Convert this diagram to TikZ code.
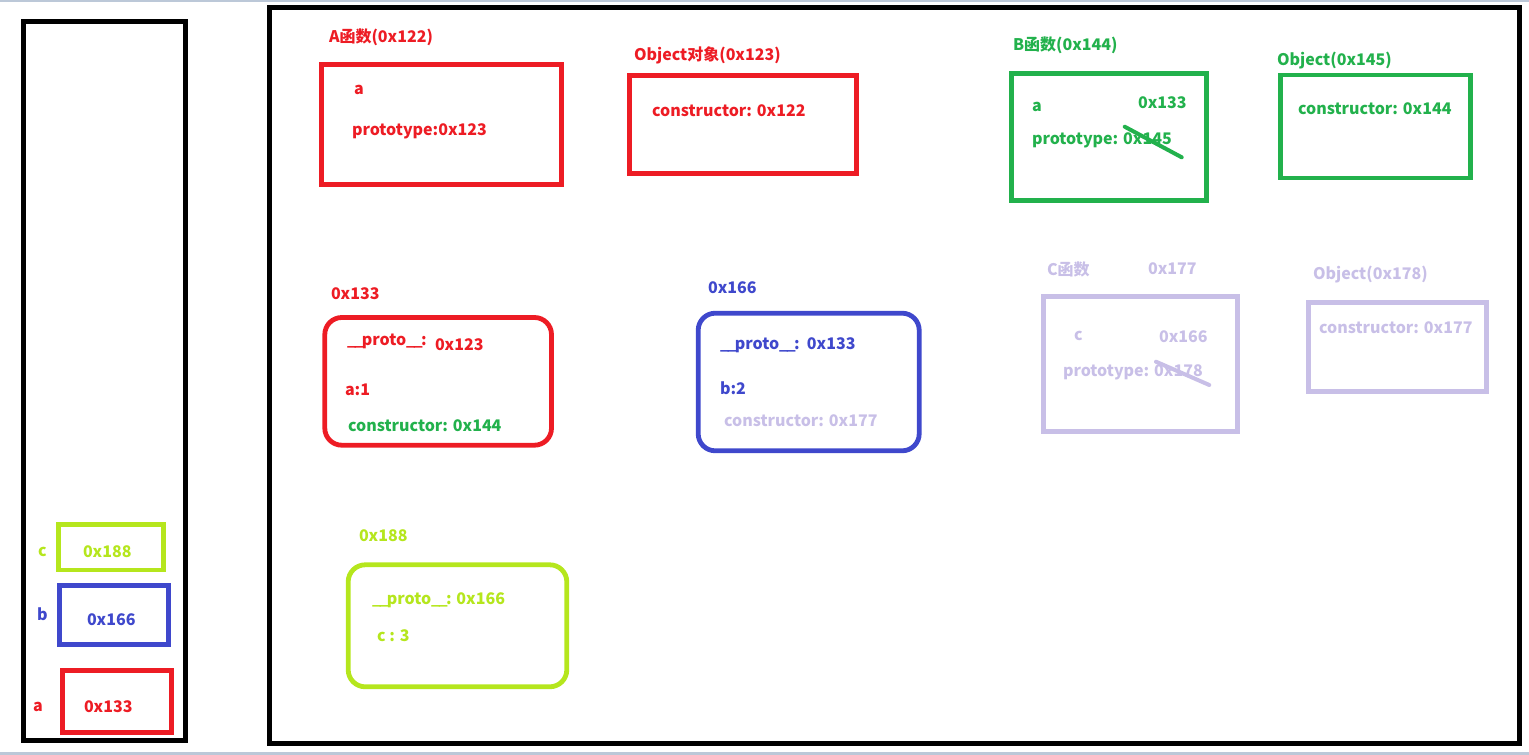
\documentclass[tikz,border=0pt]{standalone}
\usepackage{fontspec}
\setmainfont{Noto Sans CJK SC}
\usepackage{tikz}
\definecolor{pred}{HTML}{ED1C24}
\definecolor{pgreen}{HTML}{22B14C}
\definecolor{pblue}{HTML}{3F48CC}
\definecolor{plime}{HTML}{B5E61D}
\definecolor{plav}{HTML}{C8BFE7}
\definecolor{pbar}{HTML}{BCC8D8}
\newcommand\ul{\_\kern-1.75pt}
\tikzset{
    every node/.style={inner sep=0pt, outer sep=0pt,
    	font=\bfseries\fontsize{16}{16}\selectfont}
}
\tikzset{
    cell/.style={draw, rectangle, line width=4.8pt, anchor=north west},
    blob/.style={cell, rounded corners=17pt},
    txt/.style={anchor=base west},
    strike/.style={line width=4pt, line cap=round}
}

\begin{document}
\begin{tikzpicture}[x=1pt,y=-1pt]
	\useasboundingbox (0,0) rectangle (1529,755);
	\fill[pbar] (0,0) rectangle (1529,1.5);
	\fill[pbar] (0,752) rectangle (1529,755);

	\node (stack) [cell, line width=5pt, minimum width=161.5pt, minimum height=718.5pt] at (23.5,21.5) {};
	\node (heap) [cell, line width=5pt, minimum width=1250pt, minimum height=735.5pt] at (269.5,7.5) {};

	\node (sc) [cell, plime, line width=4.7pt, minimum width=105pt, minimum height=45.3pt] at (58.3,524.7) {};
	\node (sb) [cell, pblue, line width=4.7pt, minimum width=108.6pt, minimum height=59.4pt] at (59.7,585.3) {};
	\node (sa) [cell, pred, line width=4.7pt, minimum width=109pt, minimum height=62.4pt] at (62.3,670.3) {};
	\node (scn) [txt, plime] at (38,556) {c};
	\node (sbn) [txt, pblue] at (37,620) {b};
	\node (san) [txt, pred] at (33,711) {a};
	\node (scv) [txt, plime] at (83,557) {0x188};
	\node (sbv) [txt, pblue] at (87,625) {0x166};
	\node (sav) [txt, pred] at (84,712) {0x133};

	\node (A) [cell, pred, minimum width=240pt, minimum height=120.6pt] at (321.5,64.2) {};
	\node (Ao) [cell, pred, minimum width=226.7pt, minimum height=97.7pt] at (629.8,75.8) {};
	\node (B) [cell, pgreen, minimum width=194.5pt, minimum height=127.6pt] at (1011.7,73.2) {};
	\node (Bo) [cell, pgreen, minimum width=189.7pt, minimum height=103pt] at (1280.8,75) {};
	\node (C) [cell, plav, minimum width=193.4pt, minimum height=134.5pt] at (1043.8,296.7) {};
	\node (Co) [cell, plav, minimum width=177.4pt, minimum height=89.3pt] at (1308.8,302.2) {};
	\node (a) [blob, pred, minimum width=226.7pt, minimum height=127.7pt] at (324.8,317.5) {};
	\node (b) [blob, pblue, minimum width=221pt, minimum height=137.6pt] at (698.2,313.2) {};
	\node (c) [blob, plime, minimum width=218.6pt, minimum height=122pt] at (348.2,564.8) {};

	\node (At) [txt, pred] at (329,42.7) {A函数(0x122)};
	\node (A1) [txt, pred] at (354,94) {a};
	\node (A2) [txt, pred] at (352,135) {prototype:0x123};
	\node (Aot) [txt, pred] at (634,60.5) {Object对象(0x123)};
	\node (Ao1) [txt, pred] at (652,116) {constructor: 0x122};

	\node (Bt) [txt, pgreen] at (1013,50) {B函数(0x144)};
	\node (B1) [txt, pgreen] at (1032,111.7) {a};
	\node (B2) [txt, pgreen] at (1138,108.3) {0x133};
	\node (B3) [txt, pgreen] at (1032,144.3) {prototype: 0x145};
	\node (Bot) [txt, pgreen] at (1277,65) {Object(0x145)};
	\node (Bo1) [txt, pgreen] at (1298,114.3) {constructor: 0x144};

	\node (Ct) [txt, plav] at (1047,275) {C函数};
	\node (Cv) [txt, plav] at (1148,274) {0x177};
	\node (C1) [txt, plav] at (1074,340.7) {c};
	\node (C2) [txt, plav] at (1159,342.7) {0x166};
	\node (C3) [txt, plav] at (1063,376.7) {prototype: 0x178};
	\node (Cot) [txt, plav] at (1313,279) {Object(0x178)};
	\node (Co1) [txt, plav] at (1319,333.3) {constructor: 0x177};

	\node (at) [txt, pred] at (331,299.3) {0x133};
	\node (a1) [txt, pred] at (347,345) {\ul\ul proto\ul\ul:};
	\node (a2) [txt, pred] at (435,350) {0x123};
	\node (a3) [txt, pred] at (345,395) {a:1};
	\node (a4) [txt, pgreen] at (348,431.7) {constructor: 0x144};

	\node (bt) [txt, pblue] at (708,293.3) {0x166};
	\node (b1) [txt, pblue] at (720,349) {\ul\ul proto\ul\ul:~~0x133};
	\node (b2) [txt, pblue] at (720,394) {b:2};
	\node (b3) [txt, plav] at (724,426) {constructor: 0x177};

	\node (ct) [txt, plime] at (359,541.7) {0x188};
	\node (c1) [txt, plime] at (372,604) {\ul\ul proto\ul\ul: 0x166};
	\node (c2) [txt, plime] at (377,641.7) {c : 3};

	\coordinate (x1) at (1124.7,126.7); \coordinate (x2) at (1181.7,157.3);
	\coordinate (y1) at (1156,361.7); \coordinate (y2) at (1209.3,385);
	\draw[strike, pgreen] (x1) -- (x2);
	\draw[strike, plav] (y1) -- (y2);
\end{tikzpicture}
\end{document}
